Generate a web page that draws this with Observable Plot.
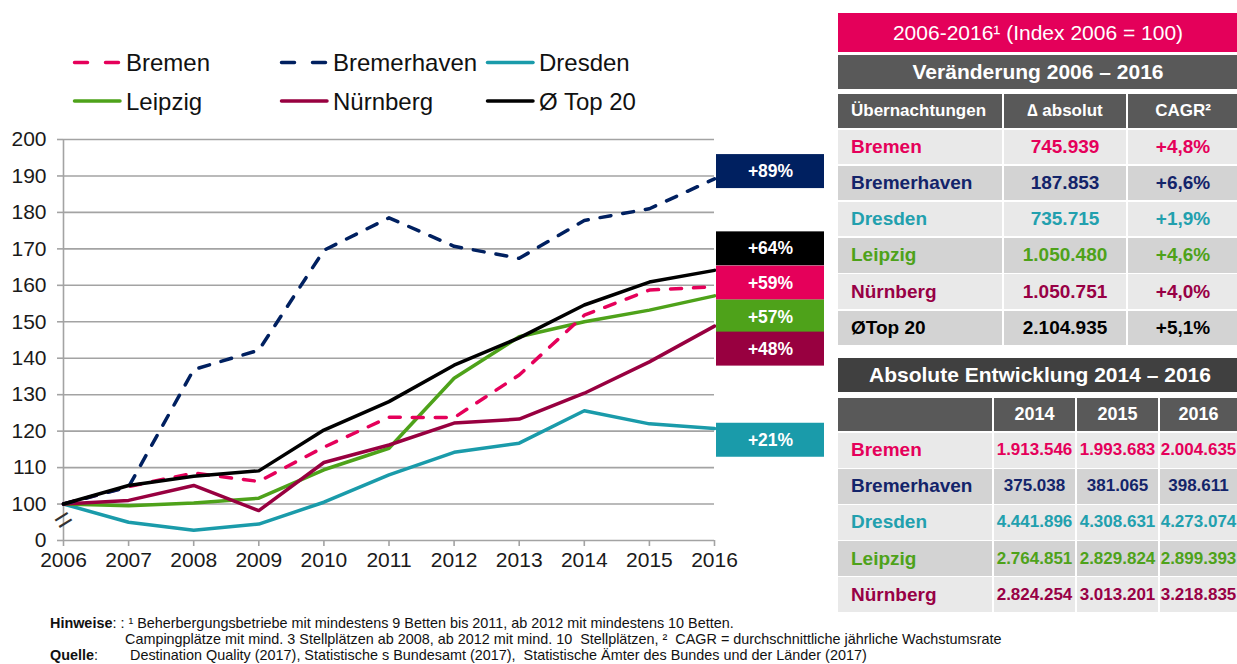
<!DOCTYPE html>
<html><head><meta charset="utf-8">
<script src="https://cdn.jsdelivr.net/npm/d3@7"></script>
<script src="https://cdn.jsdelivr.net/npm/@observablehq/plot@0.6"></script>
<style>
html,body{margin:0;padding:0;background:#fff;}
body{width:1237px;height:664px;overflow:hidden;position:relative;font-family:"Liberation Sans",Arial,sans-serif;}
.abs{position:absolute;}
.cell{position:absolute;display:flex;align-items:center;justify-content:center;box-sizing:border-box;white-space:nowrap;font-weight:bold;}
.note{position:absolute;white-space:nowrap;font-family:"Liberation Sans Narrow","Arial Narrow","Liberation Sans",Arial,sans-serif;font-size:14.4px;color:#111;}
</style></head><body>
<div id="legend" class="abs" style="left:0;top:0;"></div>
<div id="chart" class="abs" style="left:0;top:120px;"></div>
<div id="tables"></div>
<div id="notes"></div>
<script>
// ---------- DATA ----------
const years = [2006, 2007, 2008, 2009, 2010, 2011, 2012, 2013, 2014, 2015, 2016];
const indexBremen      = [100, 104.8, 108.5, 106.2, 115.6, 123.8, 123.7, 135.4, 151.8, 158.7, 159.6];
const indexBremerhaven = [100, 104.7, 136.9, 142.2, 169.6, 178.5, 170.7, 167.4, 177.8, 181.0, 189.2];
const indexDresden     = [100, 95.0, 92.8, 94.5, 100.5, 108.0, 114.2, 116.7, 125.6, 122.0, 120.7];
const indexLeipzig     = [100, 99.5, 100.3, 101.6, 109.4, 115.3, 134.5, 145.9, 150.0, 153.2, 157.1];
const indexNuernberg   = [100, 101.0, 105.1, 98.2, 111.4, 116.2, 122.2, 123.3, 130.4, 139.0, 148.8];
const indexTop20       = [100, 105.1, 107.6, 109.1, 120.3, 128.1, 138.1, 145.6, 154.6, 160.9, 164.1];

const seriesNames  = ["Bremen", "Bremerhaven", "Dresden", "Leipzig", "Nürnberg", "Ø Top 20"];
const seriesColors = ["#E5005A", "#002060", "#1A9BAA", "#4EA21A", "#980040", "#000000"];
const seriesDashed = [true, true, false, false, false, false];
const seriesValues = [indexBremen, indexBremerhaven, indexDresden, indexLeipzig, indexNuernberg, indexTop20];
const drawOrder = ["Dresden", "Leipzig", "Nürnberg", "Bremen", "Bremerhaven", "Ø Top 20"];

const yTicks = [90, 100, 110, 120, 130, 140, 150, 160, 170, 180, 190, 200];
const yTickLabels = ["0", "100", "110", "120", "130", "140", "150", "160", "170", "180", "190", "200"];

const changeLabels = ["+89%", "+64%", "+59%", "+57%", "+48%", "+21%"];
const changeSeries = ["Bremerhaven", "Ø Top 20", "Bremen", "Leipzig", "Nürnberg", "Dresden"];
const changeLabelIndex = [191.2, 170.0, 160.6, 151.3, 142.5, 117.5];

// Table 1
const t1Title = "2006-2016¹ (Index 2006 = 100)";
const t1Sub = "Veränderung 2006 – 2016";
const t1Header = ["Übernachtungen", "∆ absolut", "CAGR²"];
const t1Cities = ["Bremen", "Bremerhaven", "Dresden", "Leipzig", "Nürnberg", "ØTop 20"];
const t1Delta = ["745.939", "187.853", "735.715", "1.050.480", "1.050.751", "2.104.935"];
const t1Cagr = ["+4,8%", "+6,6%", "+1,9%", "+4,6%", "+4,0%", "+5,1%"];
const t1Colors = ["#E5005A", "#13246A", "#22A0AE", "#4EA21A", "#980045", "#000000"];

// Table 2
const t2Title = "Absolute Entwicklung 2014 – 2016";
const t2Years = ["2014", "2015", "2016"];
const t2Cities = ["Bremen", "Bremerhaven", "Dresden", "Leipzig", "Nürnberg"];
const abs2014 = ["1.913.546", "375.038", "4.441.896", "2.764.851", "2.824.254"];
const abs2015 = ["1.993.683", "381.065", "4.308.631", "2.829.824", "3.013.201"];
const abs2016 = ["2.004.635", "398.611", "4.273.074", "2.899.393", "3.218.835"];

// ---------- CHART ----------
const colorOf = Object.fromEntries(seriesNames.map((n, i) => [n, seriesColors[i]]));
const rows = seriesNames.flatMap((name, i) => years.map((year, j) => ({name, year, value: seriesValues[i][j]})));
const labelData = changeLabels.map((label, i) => ({label, v: changeLabelIndex[i], color: colorOf[changeSeries[i]]}));
const gray = "#a3a3a3";

const lineMarks = drawOrder.map(name => {
  const i = seriesNames.indexOf(name);
  return Plot.line(rows.filter(d => d.name === name), {
    x: "year", y: "value", stroke: seriesColors[i], strokeWidth: 3.5,
    strokeDasharray: seriesDashed[i] ? "11,12" : null,
    strokeLinecap: "round", strokeLinejoin: "round"
  });
});

const chart = Plot.plot({
  width: 830, height: 470,
  marginTop: 19, marginBottom: 50, marginLeft: 63, marginRight: 116,
  x: {type: "linear", domain: [years[0], years[years.length - 1]]},
  y: {domain: [yTicks[0], yTicks[yTicks.length - 1]]},
  style: {fontFamily: '"Liberation Sans", Arial, sans-serif', background: "transparent", overflow: "visible"},
  marks: [
    Plot.gridY(yTicks.slice(1), {stroke: gray, strokeOpacity: 1, strokeWidth: 1.6}),
    Plot.ruleY([yTicks[0]], {stroke: gray, strokeWidth: 1.6}),
    Plot.ruleX([years[0]], {stroke: gray, strokeWidth: 1.6}),
    Plot.axisY(yTicks, {tickFormat: (d) => yTickLabels[yTicks.indexOf(d)], tickSize: 6, tickPadding: 11, fontSize: 21,
      stroke: gray, strokeWidth: 1.6, fill: "#1a1a1a", label: null}),
    Plot.axisX(years, {tickFormat: (d) => String(d), tickSize: 6, tickPadding: 6, fontSize: 21,
      stroke: gray, strokeWidth: 1.6, fill: "#1a1a1a", label: null}),
    Plot.text([{x: years[0], y: 95.6}], {x: "x", y: "y", text: () => "=", rotate: -32, fontSize: 30, fill: "#333"}),
    ...lineMarks,
    Plot.rect(labelData, {x1: () => years[years.length - 1], x2: () => years[years.length - 1], y1: "v", y2: "v",
      fill: (d) => d.color, insetLeft: 2, insetRight: -110, insetTop: -17, insetBottom: -17}),
    Plot.text(labelData, {x: () => years[years.length - 1], y: "v", text: "label", dx: 56, fill: "white",
      fontWeight: "bold", fontSize: 17.5})
  ],
  color: {type: "identity"}
});
document.getElementById("chart").appendChild(chart);

// ---------- LEGEND ----------
const legendCols = [73, 280, 486];
const legendRows = [62.5, 101];
const ns = "http://www.w3.org/2000/svg";
const lsvg = document.createElementNS(ns, "svg");
lsvg.setAttribute("width", 720); lsvg.setAttribute("height", 120);
lsvg.style.fontFamily = '"Liberation Sans", Arial, sans-serif';
seriesNames.forEach((name, i) => {
  const cx = legendCols[i % 3], cy = legendRows[Math.floor(i / 3)];
  const ln = document.createElementNS(ns, "line");
  ln.setAttribute("x1", cx + 1.5); ln.setAttribute("x2", cx + 47); ln.setAttribute("y1", cy); ln.setAttribute("y2", cy);
  ln.setAttribute("stroke", seriesColors[i]); ln.setAttribute("stroke-width", 3.5); ln.setAttribute("stroke-linecap", "round");
  if (seriesDashed[i]) ln.setAttribute("stroke-dasharray", "13,18");
  lsvg.appendChild(ln);
  const tx = document.createElementNS(ns, "text");
  tx.setAttribute("x", cx + 53); tx.setAttribute("y", cy + 8.5); tx.setAttribute("font-size", 24); tx.setAttribute("fill", "#111");
  tx.textContent = name;
  lsvg.appendChild(tx);
});
document.getElementById("legend").appendChild(lsvg);

// ---------- TABLES ----------
const tables = document.getElementById("tables");
function cell(x, y, w, h, bg, html, color, size, opts = {}) {
  const d = document.createElement("div");
  d.className = "cell";
  Object.assign(d.style, {left: x + "px", top: y + "px", width: w + "px", height: h + "px", background: bg, color, fontSize: size + "px"});
  if (opts.left) { d.style.justifyContent = "flex-start"; d.style.paddingLeft = "13px"; }
  if (opts.normal) d.style.fontWeight = "normal";
  d.innerHTML = html;
  tables.appendChild(d);
}
const light = "#E9E9E9", dark = "#D3D3D3", hdr = "#595959";
cell(838, 13, 400, 39, "#E4005A", t1Title, "#fff", 21, {normal: true});
cell(838, 55, 400, 34, hdr, t1Sub, "#fff", 21);
const t1Cols = [[838, 164], [1004, 122], [1128, 110]];
t1Header.forEach((h, j) => cell(t1Cols[j][0], 94, t1Cols[j][1], 34, hdr, h, "#fff", 17, {left: j === 0}));
t1Cities.forEach((c, i) => {
  const y = 129.5 + i * 36.2, bg = i % 2 ? dark : light;
  cell(t1Cols[0][0], y, t1Cols[0][1], 34.5, bg, c, t1Colors[i], 19, {left: true});
  cell(t1Cols[1][0], y, t1Cols[1][1], 34.5, bg, t1Delta[i], t1Colors[i], 19);
  cell(t1Cols[2][0], y, t1Cols[2][1], 34.5, bg, t1Cagr[i], t1Colors[i], 19);
});
cell(838, 358, 404, 34, "#404040", t2Title, "#fff", 21);
const t2Cols = [[838, 154], [994, 81], [1077, 81], [1160, 77]];
cell(t2Cols[0][0], 398, t2Cols[0][1], 33, hdr, "", "#fff", 18);
t2Years.forEach((yv, j) => cell(t2Cols[j + 1][0], 398, t2Cols[j + 1][1], 33, hdr, yv, "#fff", 18));
const t2Vals = [abs2014, abs2015, abs2016];
t2Cities.forEach((c, i) => {
  const y = 433 + i * 36.1, bg = i % 2 ? dark : light;
  cell(t2Cols[0][0], y, t2Cols[0][1], 34.5, bg, c, t1Colors[i], 19, {left: true});
  t2Vals.forEach((arr, j) => cell(t2Cols[j + 1][0], y, t2Cols[j + 1][1], 34.5, bg, arr[i], t1Colors[i], 17));
});

// ---------- NOTES ----------
const notes = document.getElementById("notes");
function note(x, y, html) {
  const d = document.createElement("div");
  d.className = "note"; d.style.left = x + "px"; d.style.top = y + "px"; d.innerHTML = html;
  notes.appendChild(d);
}
note(50, 615, "<b>Hinweise</b>: : ¹ Beherbergungsbetriebe mit mindestens 9 Betten bis 2011, ab 2012 mit mindestens 10 Betten.");
note(125, 631, "Campingplätze mit mind. 3 Stellplätzen ab 2008, ab 2012 mit mind. 10&nbsp; Stellplätzen, ²&nbsp; CAGR = durchschnittliche jährliche Wachstumsrate");
note(50, 647, "<b>Quelle</b>:");
note(130, 647, "Destination Quality (2017), Statistische s Bundesamt (2017),&nbsp; Statistische Ämter des Bundes und der Länder (2017)");
</script>
</body></html>
